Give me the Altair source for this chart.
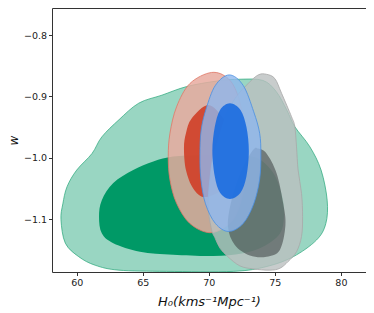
import altair as alt
import pandas as pd

# ---- contour boundaries (H0, w) ----
green_outer_x = [58.81, 58.95, 59.27, 60.0, 61.16, 61.9, 63.2, 64.7, 66.45, 68.32, 70.59, 72.36,
                 74.1, 75.1, 75.9, 76.5, 77.65, 78.5, 78.96, 78.86, 78.15, 76.4, 74.4, 71.85,
                 66.8, 63.2, 61.4, 60.15, 59.14]
green_outer_y = [-1.101, -1.075, -1.047, -1.02, -0.993, -0.966, -0.938, -0.911, -0.898, -0.884,
                 -0.875, -0.872, -0.874, -0.892, -0.922, -0.949, -0.982, -1.02, -1.069, -1.107,
                 -1.134, -1.161, -1.177, -1.185, -1.185, -1.183, -1.175, -1.161, -1.139]

green_inner_x = [61.69, 61.9, 62.77, 64.28, 65.8, 67.3, 69.33, 71.5, 73.0, 73.9, 74.9, 75.5,
                 75.7, 75.4, 74.1, 72.5, 70.33, 67.3, 64.79, 62.77, 61.9]
green_inner_y = [-1.096, -1.069, -1.041, -1.02, -1.006, -0.998, -0.996, -0.995, -0.997, -1.003,
                 -1.025, -1.058, -1.09, -1.123, -1.145, -1.156, -1.16, -1.158, -1.153, -1.139,
                 -1.123]

red_outer_x = [70.21, 71.47, 72.22, 72.73, 72.86, 72.73, 72.22, 71.47, 70.08, 68.57, 67.56,
               67.06, 66.93, 67.06, 67.56, 68.57]
red_outer_y = [-0.861, -0.871, -0.9, -0.949, -0.998, -1.041, -1.085, -1.109, -1.122, -1.107,
               -1.074, -1.036, -0.998, -0.96, -0.917, -0.879]

red_inner_x = [69.96, 71.1, 71.55, 71.6, 71.1, 69.7, 68.82, 68.27, 68.12, 68.27, 68.7]
red_inner_y = [-0.914, -0.936, -0.96, -1.02, -1.05, -1.064, -1.05, -1.02, -0.984, -0.96, -0.936]

gray_outer_x = [74.37, 75.0, 75.51, 76.26, 76.51, 76.64, 76.76, 77.02, 77.1, 77.02, 76.64, 76.0,
                75.38, 74.62, 73.36, 72.35, 71.44, 70.84, 70.46, 70.21, 69.95, 70.08, 70.33,
                70.71, 71.35, 72.1, 72.98, 73.74]
gray_outer_y = [-0.864, -0.871, -0.895, -0.933, -0.949, -0.982, -1.02, -1.058, -1.096, -1.128,
                -1.153, -1.169, -1.18, -1.183, -1.181, -1.176, -1.161, -1.147, -1.13, -1.117,
                -1.08, -1.036, -0.998, -0.971, -0.928, -0.9, -0.879, -0.865]

gray_inner_x = [73.74, 74.37, 75.13, 75.63, 75.8, 75.38, 74.37, 73.11, 71.97, 71.45, 71.72,
                72.48, 73.36]
gray_inner_y = [-0.985, -0.993, -1.025, -1.074, -1.11, -1.15, -1.161, -1.159, -1.142, -1.112,
                -1.069, -1.02, -0.987]

blue_outer_x = [71.55, 72.6, 73.4, 73.85, 73.94, 73.85, 73.4, 72.6, 71.5, 70.5, 69.75, 69.4,
                69.33, 69.42, 69.8, 70.5]
blue_outer_y = [-0.865, -0.882, -0.925, -0.96, -0.995, -1.035, -1.075, -1.107, -1.12, -1.107,
                -1.075, -1.035, -0.995, -0.955, -0.92, -0.882]

blue_inner_x = [71.6, 72.4, 72.85, 73.03, 72.85, 72.4, 71.6, 70.85, 70.45, 70.27, 70.45, 70.85]
blue_inner_y = [-0.911, -0.922, -0.95, -0.989, -1.03, -1.057, -1.067, -1.057, -1.03, -0.989,
                -0.95, -0.922]

x_ticks = [60, 65, 70, 75, 80]
y_ticks = [-1.1, -1.0, -0.9, -0.8]

x_scale = alt.Scale(domain=[58.13, 81.9], nice=False, zero=False)
y_scale = alt.Scale(domain=[-1.186, -0.756], nice=False, zero=False)

x_axis = alt.Axis(values=x_ticks, title="H₀(kms⁻¹Mpc⁻¹)", grid=False, domain=False,
                  tickSize=3.5, tickColor="#333", labelColor="#222", labelFontSize=9.5,
                  labelFont="DejaVu Sans", labelPadding=2,
                  titleFont="DejaVu Sans", titleFontStyle="italic", titleFontWeight="normal",
                  titleFontSize=13, titleColor="#111", titleBaseline="alphabetic", titleY=33)
y_axis = alt.Axis(values=y_ticks, title="w", grid=False, domain=False,
                  tickSize=3.5, tickColor="#333", labelColor="#222", labelFontSize=9.5,
                  labelFont="DejaVu Sans", labelPadding=2,
                  labelExpr="replace(format(datum.value, '.1f'), '-', '\u2212')",
                  titleFont="DejaVu Sans", titleFontStyle="italic", titleFontWeight="normal",
                  titleFontSize=12, titleColor="#111", titleAngle=270,
                  titleBaseline="alphabetic", titleX=-35, titleY=132, titleAlign="center")


def shape(xs, ys, fill, fill_opacity, stroke=None, stroke_opacity=1.0):
    df = pd.DataFrame({"i": list(range(len(xs))), "x": xs, "y": ys})
    kw = dict(fill=fill, fillOpacity=fill_opacity, interpolate="cardinal-closed",
              tension=0, clip=True)
    if stroke:
        kw.update(stroke=stroke, strokeOpacity=stroke_opacity, strokeWidth=0.9)
    else:
        kw.update(strokeOpacity=0, strokeWidth=0)
    return alt.Chart(df).mark_line(**kw).encode(
        x=alt.X("x:Q", scale=x_scale, axis=x_axis),
        y=alt.Y("y:Q", scale=y_scale, axis=y_axis),
        order="i:Q",
    )


layers = [
    shape(green_outer_x, green_outer_y, "#009966", 0.4, "#2aa77a", 0.8),
    shape(green_inner_x, green_inner_y, "#009966", 1.0),
    shape(red_outer_x, red_outer_y, "#e8aa9f", 0.85, "#e07868", 0.9),
    shape(red_inner_x, red_inner_y, "#cf4129", 0.92),
    shape(gray_outer_x, gray_outer_y, "#babfbf", 0.8, "#a8a8a8", 0.9),
    shape(gray_inner_x, gray_inner_y, "#3a4040", 0.55),
    shape(blue_outer_x, blue_outer_y, "#8eb7ec", 0.8, "#4a90e2", 0.9),
    shape(blue_inner_x, blue_inner_y, "#1a6be0", 0.9),
]

chart = alt.layer(*layers).properties(
    width=314, height=264,
    autosize=alt.AutoSizeParams(type="none"),
    padding={"left": 44, "top": 0, "right": 0, "bottom": 40},
).configure_view(stroke="#333", strokeWidth=1)

chart.save("out.html", embed_options={"renderer": "svg", "actions": False})
